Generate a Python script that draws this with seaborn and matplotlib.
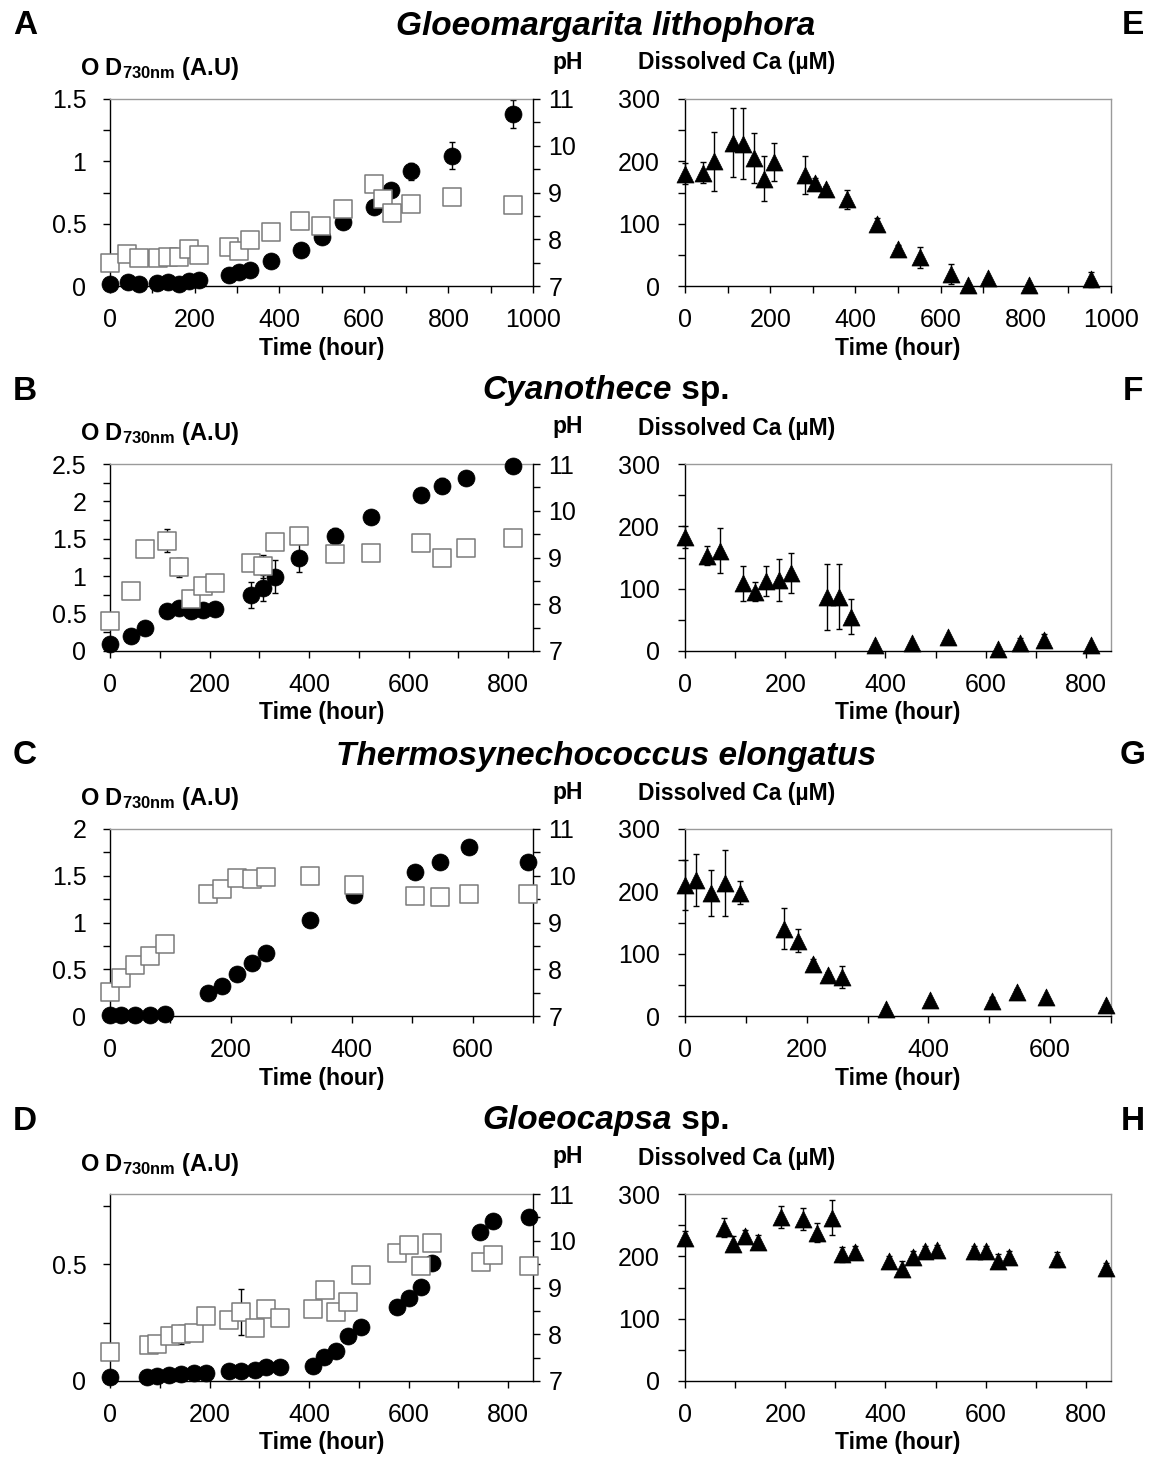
import numpy as np
import pandas as pd
import matplotlib
matplotlib.use('Agg')
import matplotlib.pyplot as plt
import seaborn as sns
from matplotlib.ticker import MultipleLocator, FuncFormatter

# ---------------- data ----------------
titles = ["Gloeomargarita lithophora", "Cyanothece", "Thermosynechococcus elongatus", "Gloeocapsa"]
title_suffix = ["", "sp.", "", "sp."]
left_letters = ["A", "B", "C", "D"]
right_letters = ["E", "F", "G", "H"]

# Panel A / E
a_time = [0, 42, 68, 112, 137, 162, 186, 210, 282, 305, 330, 380, 451, 500, 552, 624, 665, 712, 808, 953]
a_od = [0.02, 0.03, 0.02, 0.025, 0.03, 0.015, 0.04, 0.05, 0.09, 0.11, 0.13, 0.20, 0.29, 0.39, 0.51, 0.63, 0.77, 0.92, 1.045, 1.38]
a_od_err = [0, 0, 0, 0, 0, 0, 0, 0, 0, 0, 0, 0, 0, 0, 0, 0, 0, 0.07, 0.11, 0.11]
a_ph_time = [0, 41, 68, 114, 138, 163, 186, 210, 281, 305, 330, 380, 450, 499, 551, 623, 645, 666, 711, 808, 952]
a_ph = [7.5, 7.68, 7.6, 7.59, 7.61, 7.61, 7.8, 7.67, 7.83, 7.75, 7.99, 8.15, 8.39, 8.28, 8.64, 9.19, 8.87, 8.57, 8.76, 8.91, 8.74]
a_ph_err = [0, 0, 0, 0, 0, 0, 0, 0, 0, 0, 0, 0, 0, 0, 0, 0, 0, 0, 0, 0, 0]
a_ca = [180, 182, 200, 230, 228, 206, 172, 199, 178, 166, 156, 139, 99, 60, 46, 20, 1, 13, 2, 11]
a_ca_err = [17, 17, 47, 55, 57, 40, 36, 31, 30, 8, 5, 15, 10, 6, 17, 16, 0, 0, 0, 12]

# Panel B / F
b_time = [0, 43, 70, 115, 139, 162, 187, 211, 283, 308, 332, 380, 452, 524, 625, 668, 716, 810]
b_od = [0.10, 0.20, 0.31, 0.53, 0.58, 0.54, 0.55, 0.56, 0.75, 0.84, 0.99, 1.25, 1.54, 1.79, 2.08, 2.21, 2.31, 2.47]
b_od_err = [0, 0, 0, 0, 0, 0, 0, 0, 0.17, 0.17, 0.22, 0.20, 0.10, 0, 0, 0.10, 0, 0]
b_ph = [7.65, 8.29, 9.19, 9.36, 8.79, 8.12, 8.38, 8.46, 8.89, 8.81, 9.34, 9.45, 9.08, 9.09, 9.31, 8.99, 9.20, 9.41]
b_ph_err = [0, 0, 0, 0.25, 0.20, 0, 0, 0, 0, 0.25, 0, 0, 0, 0, 0, 0, 0, 0]
b_ca = [183, 153, 161, 109, 95, 113, 114, 125, 87, 87, 55, 10, 13, 23, 3, 13, 18, 10]
b_ca_err = [18, 15, 36, 28, 15, 24, 33, 32, 53, 52, 28, 0, 0, 0, 0, 8, 10, 0]

# Panel C / G
c_time = [0, 18, 42, 66, 91, 162, 186, 210, 235, 258, 331, 403, 504, 546, 594, 691]
c_od = [0.01, 0.01, 0.01, 0.01, 0.02, 0.25, 0.32, 0.45, 0.57, 0.675, 1.03, 1.29, 1.54, 1.65, 1.81, 1.65]
c_od_err = [0, 0, 0, 0, 0, 0, 0, 0, 0, 0, 0.07, 0, 0, 0, 0.06, 0.06]
c_ph = [7.52, 7.81, 8.10, 8.28, 8.54, 9.61, 9.71, 9.96, 9.93, 9.98, 9.99, 9.81, 9.57, 9.55, 9.61, 9.62]
c_ph_err = [0, 0, 0, 0.06, 0.09, 0.13, 0, 0, 0.05, 0.07, 0, 0, 0, 0, 0, 0]
c_ca = [210, 218, 197, 214, 198, 140, 121, 84, 65, 63, 11, 26, 24, 38, 31, 17]
c_ca_err = [40, 42, 37, 53, 18, 33, 18, 8, 5, 18, 0, 0, 6, 6, 0, 0]

# Panel D / H
d_time = [0, 74, 95, 118, 142, 168, 193, 239, 264, 292, 313, 341, 408, 431, 455, 479, 504, 577, 600, 625, 648, 744, 770, 841]
d_od = [0.016, 0.016, 0.02, 0.026, 0.029, 0.033, 0.036, 0.044, 0.044, 0.047, 0.061, 0.059, 0.066, 0.104, 0.129, 0.193, 0.229, 0.316, 0.357, 0.401, 0.504, 0.636, 0.683, 0.701]
d_od_err = [0, 0, 0, 0, 0, 0, 0, 0, 0, 0, 0, 0, 0, 0, 0, 0, 0, 0, 0, 0, 0, 0, 0, 0]
d_ph_time = [0, 78, 95, 120, 142, 168, 193, 239, 264, 292, 313, 341, 408, 433, 455, 479, 505, 577, 601, 625, 648, 745, 770, 841]
d_ph = [7.63, 7.76, 7.79, 7.97, 8.00, 8.02, 8.40, 8.31, 8.47, 8.14, 8.54, 8.34, 8.54, 8.94, 8.47, 8.68, 9.26, 9.74, 9.91, 9.47, 9.96, 9.54, 9.70, 9.45]
d_ph_err = [0, 0, 0, 0, 0.2, 0, 0, 0, 0.49, 0, 0, 0, 0, 0, 0, 0, 0.04, 0, 0, 0, 0, 0, 0, 0]
d_ca_time = [0, 77, 95, 119, 145, 191, 236, 263, 293, 313, 340, 407, 432, 455, 478, 503, 576, 600, 624, 646, 742, 840]
d_ca = [230, 246, 220, 232, 223, 263, 260, 238, 262, 203, 207, 192, 180, 199, 209, 210, 208, 209, 193, 199, 195, 181]
d_ca_err = [10, 15, 12, 10, 12, 17, 17, 15, 28, 12, 10, 8, 12, 10, 8, 8, 8, 8, 10, 10, 12, 8]

x_max = [1000, 850, 700, 850]
od_max = [1.5, 2.5, 2.0, 0.8]

# ---------------- style ----------------
sns.set_style('ticks')
plt.rcParams['font.family'] = ['Liberation Sans', 'DejaVu Sans']
plt.rcParams['mathtext.fontset'] = 'custom'
plt.rcParams['mathtext.rm'] = 'Liberation Sans'
plt.rcParams['mathtext.bf'] = 'Liberation Sans:bold'
plt.rcParams['mathtext.it'] = 'Liberation Sans:italic'
for k in ('text.color', 'axes.labelcolor', 'xtick.color', 'ytick.color', 'axes.edgecolor'):
    plt.rcParams[k] = 'black'

W, H = 1153, 1459
fig = plt.figure(figsize=(W / 100, H / 100), dpi=100)


def box(l, t, r, b):
    return [l / W, 1 - b / H, (r - l) / W, (b - t) / H]


fmt = FuncFormatter(lambda v, p: f"{v:g}")
TICK = 18
LAB = 16.5
TTL = 24

rows = [
    (a_time, a_od, a_od_err, a_ph_time, a_ph, a_ph_err, a_time, a_ca, a_ca_err),
    (b_time, b_od, b_od_err, b_time, b_ph, b_ph_err, b_time, b_ca, b_ca_err),
    (c_time, c_od, c_od_err, c_time, c_ph, c_ph_err, c_time, c_ca, c_ca_err),
    (d_time, d_od, d_od_err, d_ph_time, d_ph, d_ph_err, d_ca_time, d_ca, d_ca_err),
]
tops = [99, 464, 829, 1194]
HGT = 187
LX0, LX1 = 110, 533
RX0, RX1 = 685, 1111


def style_ticks(ax, xmax):
    ax.set_xlim(0, xmax)
    ax.xaxis.set_major_locator(MultipleLocator(200))
    ax.xaxis.set_minor_locator(MultipleLocator(100))
    ax.xaxis.set_major_formatter(fmt)
    ax.tick_params(axis='both', which='both', direction='out', length=5, width=1,
                   colors='black', labelsize=TICK)
    ax.tick_params(axis='x', pad=11)


renderer = fig.canvas.get_renderer()

for i, (t_od, od, od_e, t_ph, ph, ph_e, t_ca, ca, ca_e) in enumerate(rows):
    top = tops[i]
    # ---- left: OD + pH ----
    ax = fig.add_axes(box(LX0, top, LX1, top + HGT))
    ax2 = ax.twinx()
    ax.errorbar(t_od, od, yerr=od_e, fmt='none', ecolor='black', elinewidth=1,
                capsize=2, capthick=1, zorder=2, clip_on=False)
    sns.scatterplot(x=t_od, y=od, ax=ax, marker='o', s=150, color='black',
                    edgecolor='black', linewidth=0.5, zorder=3, clip_on=False)
    ax2.errorbar(t_ph, ph, yerr=ph_e, fmt='none', ecolor='black', elinewidth=1,
                 capsize=2, capthick=1, zorder=2, clip_on=False)
    sns.scatterplot(x=t_ph, y=ph, ax=ax2, marker='s', s=175, color='white',
                    edgecolor='#7a7a7a', linewidth=1.1, zorder=3, clip_on=False)
    style_ticks(ax, x_max[i])
    ax.set_ylim(0, od_max[i])
    ax.yaxis.set_major_locator(MultipleLocator(0.5))
    ax.yaxis.set_minor_locator(MultipleLocator(0.25))
    ax.yaxis.set_major_formatter(fmt)
    ax.tick_params(axis='y', pad=12)
    ax2.set_ylim(7, 11)
    ax2.yaxis.set_major_locator(MultipleLocator(1))
    ax2.yaxis.set_minor_locator(MultipleLocator(0.5))
    ax2.tick_params(axis='y', which='both', direction='out', length=5, width=1,
                    colors='black', labelsize=TICK, pad=6)
    for a in (ax, ax2):
        a.set_xlabel('')
        a.set_ylabel('')
    ax.spines['top'].set_color('#9a9a9a')
    ax.spines['right'].set_visible(False)
    for s in ('top', 'left', 'bottom'):
        ax2.spines[s].set_visible(False)
    ax2.spines['right'].set_color('black')
    for a in (ax, ax2):
        for s in a.spines.values():
            s.set_linewidth(1)

    # ---- right: dissolved Ca ----
    bx = fig.add_axes(box(RX0, top, RX1, top + HGT))
    bx.errorbar(t_ca, ca, yerr=ca_e, fmt='none', ecolor='black', elinewidth=1,
                capsize=2, capthick=1, zorder=2, clip_on=False)
    sns.scatterplot(x=t_ca, y=ca, ax=bx, marker='^', s=150, color='black',
                    edgecolor='black', linewidth=0.5, zorder=3, clip_on=False)
    style_ticks(bx, x_max[i])
    bx.set_ylim(0, 300)
    bx.yaxis.set_major_locator(MultipleLocator(100))
    bx.yaxis.set_minor_locator(MultipleLocator(50))
    bx.tick_params(axis='y', pad=13)
    bx.set_xlabel('')
    bx.set_ylabel('')
    bx.spines['top'].set_color('#9a9a9a')
    bx.spines['right'].set_color('#9a9a9a')
    for s in bx.spines.values():
        s.set_linewidth(1)

    # ---- texts ----
    ty = top - 73
    fig.text(25 / W, 1 - ty / H, left_letters[i], ha='center', va='center',
             fontsize=24, fontweight='bold')
    fig.text(1133 / W, 1 - ty / H, right_letters[i], ha='center', va='center',
             fontsize=24, fontweight='bold')
    if title_suffix[i]:
        tmp = fig.text(0, 0, titles[i], fontsize=TTL, fontweight='bold', style='italic')
        wgen = tmp.get_window_extent(renderer).width
        tmp.remove()
        tmp = fig.text(0, 0, ' ' + title_suffix[i], fontsize=TTL, fontweight='bold')
        wsuf = tmp.get_window_extent(renderer).width
        tmp.remove()
        x0 = 606 - (wgen + wsuf) / 2
        fig.text(x0 / W, 1 - ty / H, titles[i], ha='left', va='center',
                 fontsize=TTL, fontweight='bold', style='italic')
        fig.text((x0 + wgen) / W, 1 - ty / H, ' ' + title_suffix[i], ha='left',
                 va='center', fontsize=TTL, fontweight='bold')
    else:
        fig.text(606 / W, 1 - ty / H, titles[i], ha='center', va='center',
                 fontsize=TTL, fontweight='bold', style='italic')

    fig.text(80 / W, 1 - (top - 30) / H, r'O D$_{\mathbf{730nm}}$ (A.U)', ha='left',
             va='center', fontsize=17, fontweight='bold')
    fig.text(552 / W, 1 - (top - 37) / H, 'pH', ha='left', va='center',
             fontsize=LAB, fontweight='bold')
    fig.text(638 / W, 1 - (top - 36) / H, 'Dissolved Ca (µM)', ha='left', va='center',
             fontsize=LAB, fontweight='bold')
    fig.text((LX0 + LX1) / 2 / W, 1 - (top + 249) / H, 'Time (hour)', ha='center',
             va='center', fontsize=LAB, fontweight='bold')
    fig.text((RX0 + RX1) / 2 / W, 1 - (top + 249) / H, 'Time (hour)', ha='center',
             va='center', fontsize=LAB, fontweight='bold')

fig.savefig('out.png', dpi=100)
